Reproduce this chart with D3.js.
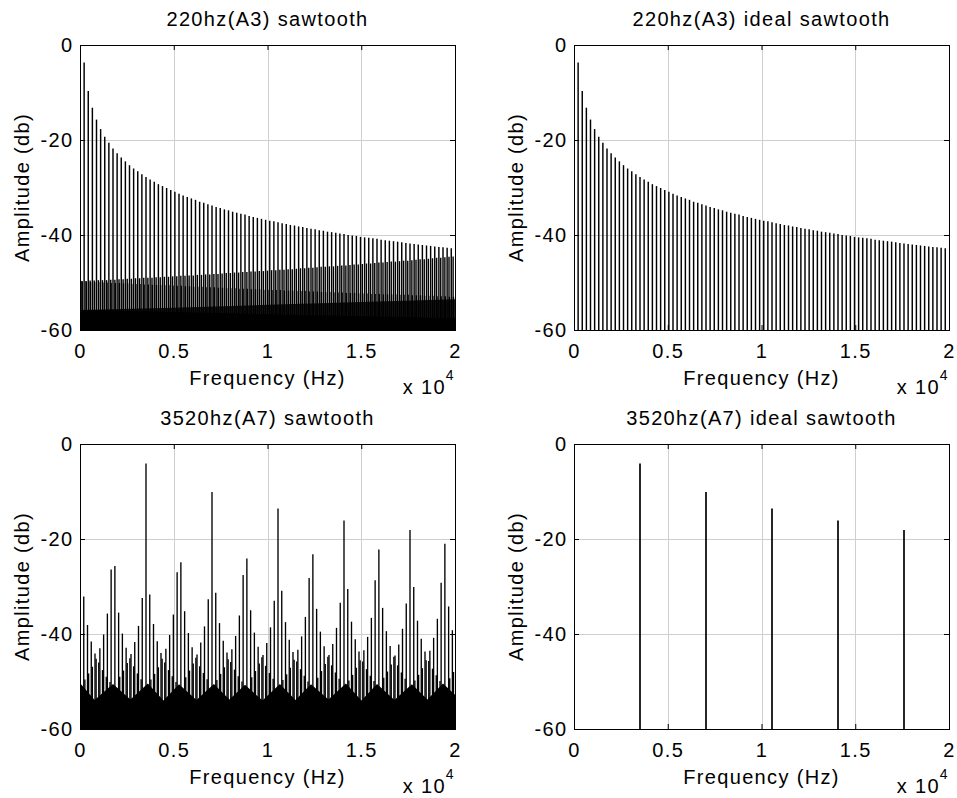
<!DOCTYPE html>
<html>
<head>
<meta charset="utf-8">
<script src="https://cdn.jsdelivr.net/npm/d3@7"></script>
<style>
  body { margin: 0; background: #fff; }
  text { font-family: "Liberation Sans", Arial, Helvetica, sans-serif; }
</style>
</head>
<body>
<svg id="chart"></svg>
<script>
// ---- data (values in dB) ----

// 220 Hz: harmonic lines every 220 Hz (n = 1..90)
const fundamentalA3 = 220;
const harmonicsA3Db = [
  -3.7, -9.7, -13.2, -15.7, -17.7, -19.3, -20.6, -21.8, -22.8, -23.7,
  -24.5, -25.3, -26.0, -26.6, -27.2, -27.8, -28.3, -28.8, -29.3, -29.7,
  -30.1, -30.5, -30.9, -31.3, -31.7, -32.0, -32.3, -32.6, -33.0, -33.2,
  -33.5, -33.8, -34.1, -34.3, -34.6, -34.8, -35.1, -35.3, -35.5, -35.7,
  -36.0, -36.2, -36.4, -36.6, -36.8, -37.0, -37.1, -37.3, -37.5, -37.7,
  -37.9, -38.0, -38.2, -38.3, -38.5, -38.7, -38.8, -39.0, -39.1, -39.3,
  -39.4, -39.5, -39.7, -39.8, -40.0, -40.1, -40.2, -40.4, -40.5, -40.6,
  -40.7, -40.8, -41.0, -41.1, -41.2, -41.3, -41.4, -41.5, -41.7, -41.8,
  -41.9, -42.0, -42.1, -42.2, -42.3, -42.4, -42.5, -42.6, -42.7, -42.8
];

// 220 Hz aliased: first fold, lines at 100 Hz + k*220 Hz (rising band)
const aliasUpA3Start = 100;
const aliasUpA3Db = [
  -49.7, -49.7, -49.6, -49.6, -49.5, -49.5, -49.5, -49.4, -49.4, -49.3,
  -49.3, -49.2, -49.2, -49.1, -49.1, -49.0, -49.0, -49.0, -48.9, -48.9,
  -48.8, -48.8, -48.7, -48.7, -48.6, -48.6, -48.5, -48.5, -48.4, -48.4,
  -48.3, -48.3, -48.2, -48.2, -48.1, -48.0, -48.0, -47.9, -47.9, -47.8,
  -47.8, -47.7, -47.7, -47.6, -47.6, -47.5, -47.4, -47.4, -47.3, -47.3,
  -47.2, -47.2, -47.1, -47.0, -47.0, -46.9, -46.9, -46.8, -46.7, -46.7,
  -46.6, -46.6, -46.5, -46.4, -46.4, -46.3, -46.2, -46.2, -46.1, -46.0,
  -46.0, -45.9, -45.8, -45.8, -45.7, -45.6, -45.6, -45.5, -45.4, -45.4,
  -45.3, -45.2, -45.1, -45.1, -45.0, -44.9, -44.8, -44.8, -44.7, -44.6,
  -44.5
];

// 220 Hz aliased: second fold, lines at 120 Hz + k*220 Hz (falling band)
const aliasDownA3Start = 120;
const aliasDownA3Db = [
  -49.8, -49.8, -49.9, -49.9, -49.9, -50.0, -50.0, -50.1, -50.1, -50.1,
  -50.2, -50.2, -50.3, -50.3, -50.3, -50.4, -50.4, -50.5, -50.5, -50.5,
  -50.6, -50.6, -50.7, -50.7, -50.7, -50.8, -50.8, -50.9, -50.9, -50.9,
  -51.0, -51.0, -51.0, -51.1, -51.1, -51.2, -51.2, -51.2, -51.3, -51.3,
  -51.3, -51.4, -51.4, -51.4, -51.5, -51.5, -51.6, -51.6, -51.6, -51.7,
  -51.7, -51.7, -51.8, -51.8, -51.8, -51.9, -51.9, -51.9, -52.0, -52.0,
  -52.0, -52.1, -52.1, -52.1, -52.2, -52.2, -52.2, -52.3, -52.3, -52.3,
  -52.4, -52.4, -52.4, -52.5, -52.5, -52.5, -52.5, -52.6, -52.6, -52.6,
  -52.7, -52.7, -52.7, -52.8, -52.8, -52.8, -52.9, -52.9, -52.9, -53.0,
  -53.0
];

// 220 Hz aliased: dense lower bands (envelopes)
const bandA3Hz = [0, 5000, 10000, 15000, 20000];
const bandA3Top = [-55.8, -55.3, -54.7, -54.1, -53.5];
const floorA3Top = [-55.8, -56.2, -56.7, -57.1, -57.5];

// 3520 Hz aliased: [Hz, dB] lines standing above the floor
const linesA7 = [
  [200, -32.1], [400, -38.1], [600, -41.6], [800, -44.1], [1000, -46.0], [1200, -47.6], [1400, -49.0], [1600, -50.1],
  [1660, -26.4], [1460, -35.7], [1260, -40.1], [1060, -43.0], [860, -45.2], [660, -46.9], [460, -48.3], [260, -49.6],
  [1860, -25.7], [2060, -35.5], [2260, -39.9], [2460, -42.9], [2660, -45.1], [2860, -46.8], [3060, -48.3], [3260, -49.5],
  [3520, -4.1], [3320, -32.4], [3120, -38.3], [2920, -41.7], [2720, -44.2], [2520, -46.1], [2320, -47.7], [2120, -49.0],
  [3720, -31.7], [3920, -37.9], [4120, -41.5], [4320, -44.0], [4520, -46.0], [4720, -47.6], [4920, -48.9], [5120, -50.1],
  [5180, -27.0], [4980, -35.9], [4780, -40.2], [4580, -43.1], [4380, -45.2], [4180, -47.0], [3980, -48.4], [3780, -49.6],
  [5380, -24.9], [5580, -35.2], [5780, -39.8], [5980, -42.8], [6180, -45.0], [6380, -46.8], [6580, -48.2], [6780, -49.5],
  [7040, -10.1], [6840, -32.7], [6640, -38.4], [6440, -41.8], [6240, -44.3], [6040, -46.2], [5840, -47.7], [5640, -49.1],
  [7240, -31.3], [7440, -37.7], [7640, -41.4], [7840, -43.9], [8040, -45.9], [8240, -47.5], [8440, -48.9], [8640, -50.0],
  [8700, -27.6], [8500, -36.1], [8300, -40.4], [8100, -43.2], [7900, -45.3], [7700, -47.0], [7500, -48.4], [7300, -49.7],
  [8900, -24.1], [9100, -35.0], [9300, -39.7], [9500, -42.7], [9700, -44.9], [9900, -46.7], [10100, -48.2], [10300, -49.4],
  [10560, -13.6], [10360, -33.0], [10160, -38.6], [9960, -41.9], [9760, -44.4], [9560, -46.2], [9360, -47.8], [9160, -49.1],
  [10760, -30.9], [10960, -37.5], [11160, -41.2], [11360, -43.8], [11560, -45.8], [11760, -47.4], [11960, -48.8], [12160, -50.0],
  [12220, -28.2], [12020, -36.4], [11820, -40.5], [11620, -43.3], [11420, -45.4], [11220, -47.1], [11020, -48.5], [10820, -49.7],
  [12420, -23.2], [12620, -34.7], [12820, -39.5], [13020, -42.6], [13220, -44.8], [13420, -46.6], [13620, -48.1], [13820, -49.4],
  [14080, -16.1], [13880, -33.4], [13680, -38.7], [13480, -42.1], [13280, -44.4], [13080, -46.3], [12880, -47.8], [12680, -49.2],
  [14280, -30.5], [14480, -37.4], [14680, -41.1], [14880, -43.7], [15080, -45.8], [15280, -47.4], [15480, -48.8], [15680, -49.9],
  [15740, -28.7], [15540, -36.6], [15340, -40.6], [15140, -43.4], [14940, -45.5], [14740, -47.1], [14540, -48.6], [14340, -49.8],
  [15940, -22.2], [16140, -34.5], [16340, -39.4], [16540, -42.5], [16740, -44.8], [16940, -46.6], [17140, -48.1], [17340, -49.4],
  [17600, -18.1], [17400, -33.6], [17200, -38.9], [17000, -42.2], [16800, -44.5], [16600, -46.4], [16400, -47.9], [16200, -49.2],
  [17800, -30.1], [18000, -37.2], [18200, -41.0], [18400, -43.7], [18600, -45.7], [18800, -47.3], [19000, -48.7], [19200, -49.9],
  [19260, -29.2], [19060, -36.8], [18860, -40.8], [18660, -43.5], [18460, -45.5], [18260, -47.2], [18060, -48.6], [17860, -49.8],
  [19460, -21.0], [19660, -34.2], [19860, -39.2], [19920, -48.0], [19720, -49.3]
];

// 3520 Hz aliased: scalloped noise floor (top edge)
const floorA7Hz = [0, 780, 1760, 2690, 3620, 4450, 5280, 6210, 7140, 7970, 8800, 9730,
  10660, 11490, 12320, 13250, 14180, 15010, 15840, 16770, 17700, 18530, 19360, 20000];
const floorA7Db = [-50.3, -53.9, -50.5, -53.8, -50.4, -54.0, -50.6, -53.9, -50.5, -53.8, -50.7, -54.0,
  -50.5, -53.9, -50.6, -53.8, -50.4, -54.0, -50.5, -53.9, -50.6, -53.8, -50.4, -52.8];

// 3520 Hz ideal
const idealA7Hz = [3520, 7040, 10560, 14080, 17600];
const idealA7Db = [-4.1, -10.1, -13.6, -16.1, -18.1];

const titles = ["220hz(A3) sawtooth", "220hz(A3) ideal sawtooth",
                "3520hz(A7) sawtooth", "3520hz(A7) ideal sawtooth"];
const xTicks = [0, 5000, 10000, 15000, 20000];
const yTicks = [-60, -40, -20, 0];

// ---- drawing ----
const W = 957, H = 798;
const plotW = 375, plotH = 285;
const fontStack = '"Liberation Sans", Arial, Helvetica, sans-serif';

const svg = d3.select("#chart").attr("width", W).attr("height", H);

function makePanel(i, left, top) {
  const x = d3.scaleLinear().domain([0, 20000]).range([left, left + plotW]);
  const y = d3.scaleLinear().domain([-60, 0]).range([top + plotH, top]);
  const g = svg.append("g");

  g.append("clipPath").attr("id", "clip" + i)
    .append("rect").attr("x", left).attr("y", top).attr("width", plotW).attr("height", plotH);

  // grid
  g.append("g").selectAll("line").data(xTicks.slice(1, -1)).join("line")
    .attr("x1", d => Math.round(x(d)) + 0.5).attr("x2", d => Math.round(x(d)) + 0.5)
    .attr("y1", top).attr("y2", top + plotH)
    .attr("stroke", "#cfcfcf").attr("stroke-width", 1);
  g.append("g").selectAll("line").data(yTicks.slice(1, -1)).join("line")
    .attr("y1", d => Math.round(y(d)) + 0.5).attr("y2", d => Math.round(y(d)) + 0.5)
    .attr("x1", left).attr("x2", left + plotW)
    .attr("stroke", "#cfcfcf").attr("stroke-width", 1);

  const data = g.append("g").attr("clip-path", `url(#clip${i})`);

  // title
  g.append("text").attr("x", left + plotW / 2).attr("y", top - 19)
    .attr("text-anchor", "middle").attr("font-size", 20).attr("letter-spacing", 1.35)
    .text(titles[i]);

  return { g, data, x, y, left, top };
}

function stems(p, hz, db, width) {
  p.data.append("g").selectAll("line").data(d3.zip(hz, db)).join("line")
    .attr("x1", d => p.x(d[0])).attr("x2", d => p.x(d[0]))
    .attr("y1", d => p.y(d[1])).attr("y2", p.y(-60))
    .attr("stroke", "#000").attr("stroke-width", width);
}

function band(p, hz, topDb, fill) {
  const area = d3.area().x(d => p.x(d[0])).y0(p.y(-60)).y1(d => p.y(d[1]));
  p.data.append("path").datum(d3.zip(hz, topDb)).attr("d", area).attr("fill", fill);
}

function frame(p) {
  const { g, x, y, left, top } = p;
  const styleText = sel => sel.selectAll("text")
    .attr("font-size", 20).attr("font-family", fontStack)
    .attr("letter-spacing", 1.35).attr("fill", "#000");

  g.append("g").attr("transform", `translate(0,${top + plotH})`)
    .call(d3.axisBottom(x).tickValues(xTicks).tickFormat(d => String(d / 10000))
      .tickSizeInner(-5).tickSizeOuter(0).tickPadding(13.8))
    .call(a => a.select(".domain").remove())
    .call(styleText);
  g.append("g").attr("transform", `translate(0,${top})`)
    .call(d3.axisTop(x).tickValues(xTicks).tickFormat("").tickSizeInner(-5).tickSizeOuter(0))
    .call(a => a.select(".domain").remove());
  g.append("g").attr("transform", `translate(${left},0)`)
    .call(d3.axisLeft(y).tickValues(yTicks).tickFormat(d => String(d))
      .tickSizeInner(-5).tickSizeOuter(0).tickPadding(6.5))
    .call(a => a.select(".domain").remove())
    .call(styleText);
  g.append("g").attr("transform", `translate(${left + plotW},0)`)
    .call(d3.axisRight(y).tickValues(yTicks).tickFormat("").tickSizeInner(-5).tickSizeOuter(0))
    .call(a => a.select(".domain").remove());
  g.selectAll(".tick line").attr("stroke", "#000");

  g.append("rect").attr("x", left + 0.5).attr("y", top + 0.5)
    .attr("width", plotW).attr("height", plotH)
    .attr("fill", "none").attr("stroke", "#000").attr("stroke-width", 1);

  // axis labels
  g.append("text").attr("x", left + plotW / 2).attr("y", top + plotH + 55)
    .attr("text-anchor", "middle").attr("font-size", 20).attr("letter-spacing", 1.35)
    .text("Frequency (Hz)");
  const mult = g.append("text").attr("x", left + plotW).attr("y", top + plotH + 64)
    .attr("text-anchor", "end").attr("font-size", 20).attr("letter-spacing", 1.35);
  mult.append("tspan").text("x 10");
  mult.append("tspan").attr("dy", -14).attr("font-size", 14).text("4");
  g.append("text")
    .attr("transform", `translate(${left - 51},${top + plotH / 2}) rotate(-90)`)
    .attr("text-anchor", "middle").attr("font-size", 20).attr("letter-spacing", 1.35)
    .text("Amplitude (db)");
}

const lefts = [80, 574], tops = [45, 444];
const panels = [
  makePanel(0, lefts[0], tops[0]),
  makePanel(1, lefts[1], tops[0]),
  makePanel(2, lefts[0], tops[1]),
  makePanel(3, lefts[1], tops[1])
];

const harmonicsA3Hz = harmonicsA3Db.map((_, k) => fundamentalA3 * (k + 1));
const aliasUpA3Hz = aliasUpA3Db.map((_, k) => aliasUpA3Start + fundamentalA3 * k);
const aliasDownA3Hz = aliasDownA3Db.map((_, k) => aliasDownA3Start + fundamentalA3 * k);

// 220 Hz sawtooth (aliased)
band(panels[0], bandA3Hz, bandA3Top, "#222");
band(panels[0], bandA3Hz, floorA3Top, "#000");
stems(panels[0], aliasUpA3Hz, aliasUpA3Db, 1.4);
stems(panels[0], aliasDownA3Hz, aliasDownA3Db, 1.4);
stems(panels[0], harmonicsA3Hz, harmonicsA3Db, 1.45);

// 220 Hz ideal
stems(panels[1], harmonicsA3Hz, harmonicsA3Db, 1.45);

// 3520 Hz sawtooth (aliased)
band(panels[2], floorA7Hz, floorA7Db, "#000");
stems(panels[2], linesA7.map(d => d[0]), linesA7.map(d => d[1]), 1.35);

// 3520 Hz ideal
stems(panels[3], idealA7Hz, idealA7Db, 1.7);

panels.forEach(frame);
</script>
</body>
</html>
